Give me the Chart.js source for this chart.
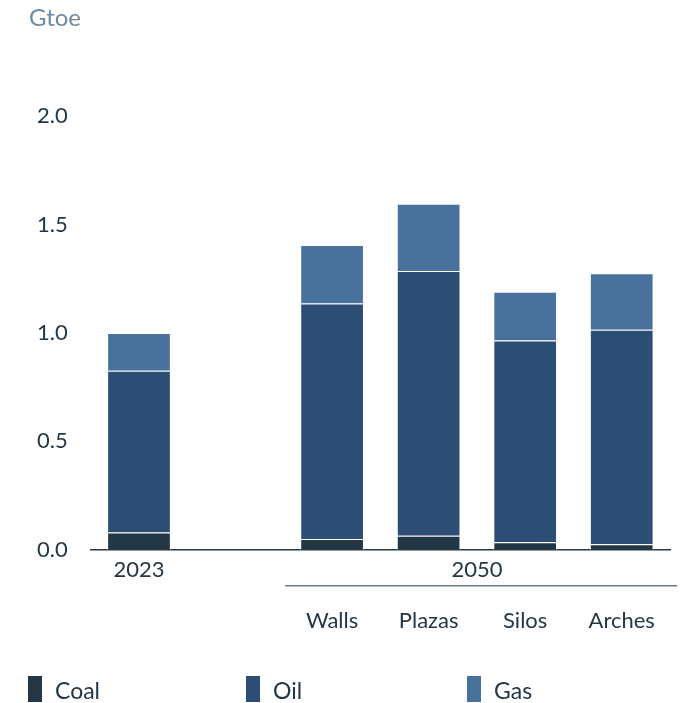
<!DOCTYPE html>
<html>
<head>
<meta charset="utf-8">
<script src="https://cdn.jsdelivr.net/npm/chart.js@4.4.1/dist/chart.umd.min.js"></script>
<style>
  html, body { margin: 0; padding: 0; background: #fff; }
  #wrap { position: relative; width: 684px; height: 703px; font-family: Lato, "Noto Sans", sans-serif; }
  #unit { position: absolute; left: 29px; top: 2px; font-size: 24px; color: #6f8aa0; }
  .leg { position: absolute; top: 676px; height: 26px; }
  .leg span.box { position: absolute; left: 0; top: 0; width: 14px; height: 26px; }
  .leg span.txt { position: absolute; top: 0; line-height: 28px; font-size: 23px; color: #253746; white-space: nowrap; }
</style>
</head>
<body>
<div id="wrap">
  <canvas id="energy_chart" width="684" height="703"></canvas>
  <div id="unit">Gtoe</div>
  <div id="legend"></div>
</div>
<script>
// D A T A
const categories = ['2023', '', 'Walls', 'Plazas', 'Silos', 'Arches'];
const groupLabel = '2050';          // spans Walls..Arches
const groupFrom = 2, groupTo = 5;
const coal = [0.08, null, 0.05, 0.065, 0.035, 0.025];
const oil = [0.745, null, 1.085, 1.22, 0.93, 0.99];
const gas = [0.175, null, 0.27, 0.31, 0.225, 0.26];
const yTicks = [0, 0.5, 1.0, 1.5, 2.0];

const colors = {
    Coal: '#243746',
    Oil: '#2c4d74',
    Gas: '#48719c'
};
const textColor = '#253746';

// x labels: 2023 on the first line, scenarios on the third line (group label goes in between)
const xLabels = categories.map((c, i) => (i >= groupFrom && i <= groupTo) ? ['', '', c] : c);

// 2050 label + underline
const groupPlugin = {
    id: 'groupPlugin',
    afterDraw(chart) {
        const x = chart.scales.x;
        const ctx = chart.ctx;
        const cx = (x.getPixelForValue(groupFrom) + x.getPixelForValue(groupTo)) / 2;
        ctx.save();
        ctx.font = '22px Lato';
        ctx.fillStyle = textColor;
        ctx.textAlign = 'center';
        ctx.textBaseline = 'middle';
        ctx.fillText(groupLabel, cx, x.top + 8 + 12.5);
        ctx.strokeStyle = '#6b7a8a';
        ctx.lineWidth = 1.5;
        ctx.beginPath();
        ctx.moveTo(x.getPixelForValue(groupFrom) - 47, x.top + 36);
        ctx.lineTo(chart.chartArea.right + 7, x.top + 36);
        ctx.stroke();
        ctx.restore();
    }
};

const ds = (label, data) => ({
    label: label,
    data: data,
    backgroundColor: colors[label],
    borderColor: 'rgba(255,255,255,0.85)',
    borderWidth: 1,
    barPercentage: 0.66,
    categoryPercentage: 1
});

new Chart(document.getElementById('energy_chart'), {
    type: 'bar',
    data: {
        labels: xLabels,
        datasets: [ds('Coal', coal), ds('Oil', oil), ds('Gas', gas)]
    },
    options: {
        responsive: false,
        animation: false,
        layout: { padding: { top: 116, left: 14, right: 14, bottom: 62 } },
        scales: {
            x: {
                stacked: true,
                grid: { display: false, drawTicks: false },
                border: { display: true, color: '#253847', width: 1.5 },
                ticks: {
                    padding: 8,
                    color: textColor,
                    maxRotation: 0,
                    autoSkip: false,
                    font: { family: 'Lato', size: 22, lineHeight: 1.14 }
                }
            },
            y: {
                stacked: true,
                min: 0,
                max: 2.0,
                afterBuildTicks: s => { s.ticks = yTicks.map(v => ({ value: v })); },
                grid: { display: false, drawTicks: false },
                border: { display: false },
                ticks: {
                    padding: 23,
                    color: textColor,
                    font: { family: 'Lato', size: 22 },
                    callback: v => v.toFixed(1)
                }
            }
        },
        plugins: {
            legend: { display: false },
            tooltip: { enabled: false }
        }
    },
    plugins: [groupPlugin]
});

// legend
const legendPos = { Coal: 28, Oil: 246, Gas: 467 };
const legend = document.getElementById('legend');
Object.keys(colors).forEach(k => {
    const d = document.createElement('div');
    d.className = 'leg';
    d.style.left = legendPos[k] + 'px';
    d.innerHTML = '<span class="box" style="background:' + colors[k] + '"></span><span class="txt" style="left:27px">' + k + '</span>';
    legend.appendChild(d);
});
</script>
</body>
</html>
